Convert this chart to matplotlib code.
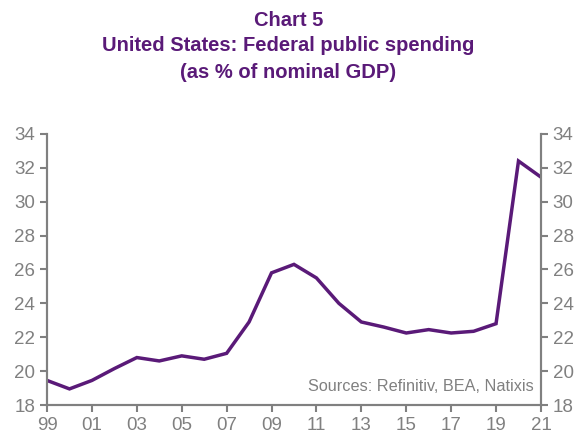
import numpy as np
import matplotlib
matplotlib.use("Agg")
import matplotlib.pyplot as plt

plt.rcParams['font.family'] = ['Liberation Sans', 'DejaVu Sans']

# federal public spending, % of nominal GDP, yearly
years = np.arange(1999, 2022)
spending = [19.45, 18.95, 19.45, 20.15, 20.8, 20.6, 20.9, 20.7, 21.05, 22.9,
            25.8, 26.3, 25.5, 24.0, 22.9, 22.6, 22.25, 22.45, 22.25, 22.35,
            22.8, 32.4, 31.45]
xticks = np.arange(1999, 2022, 2)
xlabels = ["%02d" % (y % 100) for y in xticks]
yticks = np.arange(18, 35, 2)

purple = '#5a1a78'
grey = '#808080'

fig = plt.figure(figsize=(5.77, 4.32), dpi=100)
ax = fig.add_axes([0.0815, 0.0625, 0.856, 0.6275])
ax.plot(years, spending, color=purple, lw=2.5, solid_joinstyle='miter')

ax.set_xlim(1999, 2021)
ax.set_ylim(18, 34)
ax.set_xticks(xticks)
ax.set_xticklabels(xlabels)
ax.set_yticks(yticks)

ax2 = ax.twinx()
ax2.set_ylim(18, 34)
ax2.set_yticks(yticks)

for a in (ax, ax2):
    for s in a.spines.values():
        s.set_color(grey)
        s.set_linewidth(1.5)
    a.spines['top'].set_visible(False)
    a.tick_params(colors=grey, labelcolor=grey, labelsize=13.5, width=1.5, length=5)

ax.text(0.985, 0.04, "Sources: Refinitiv, BEA, Natixis", transform=ax.transAxes,
        ha='right', va='bottom', color=grey, fontsize=11.7)

fig.text(0.5, 0.953, "Chart 5", ha='center', va='center', color=purple,
         fontsize=14.5, fontweight='bold')
fig.text(0.5, 0.895, "United States: Federal public spending", ha='center', va='center',
         color=purple, fontsize=14.5, fontweight='bold')
fig.text(0.5, 0.833, "(as % of nominal GDP)", ha='center', va='center', color=purple,
         fontsize=14.5, fontweight='bold')

fig.savefig("out.png", dpi=100)
